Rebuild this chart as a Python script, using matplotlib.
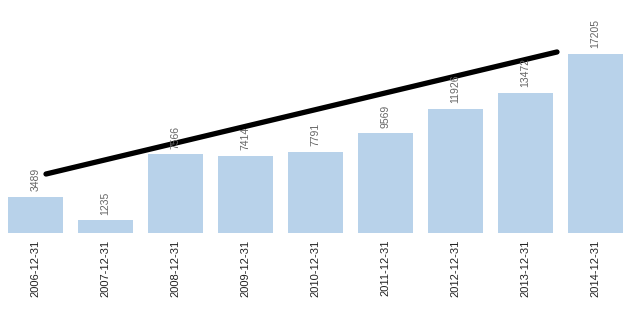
import matplotlib
matplotlib.use("Agg")
import matplotlib.pyplot as plt
import numpy as np

# values
dates = ["2006-12-31", "2007-12-31", "2008-12-31", "2009-12-31", "2010-12-31",
         "2011-12-31", "2012-12-31", "2013-12-31", "2014-12-31"]
values = [3489, 1235, 7566, 7414, 7791, 9569, 11926, 13472, 17205]

# black trend line end points (bar index, value)
trend_x = [0.15, 7.45]
trend_y = [5670, 17400]

bar_color = "#b8d2ea"
plt.rcParams["font.family"] = ["Liberation Sans", "DejaVu Sans"]

fig = plt.figure(figsize=(6.35, 3.11), dpi=100)
ax = fig.add_axes([0.5 / 635, 78 / 311, 630 / 635, 233 / 311])

x = np.arange(len(values))
ax.bar(x, values, width=0.786, color=bar_color)
ax.plot(trend_x, trend_y, color="black", linewidth=3.8, solid_capstyle="round")

for xi, v in zip(x, values):
    ax.annotate(str(v), (xi, v), xytext=(0, 4), textcoords="offset points",
                rotation=90, ha="center", va="bottom", fontsize=7.5, color="#666666")

ax.set_xlim(-0.5, len(values) - 0.5)
ax.set_ylim(0, 22395)
ax.set_xticks(x)
ax.set_xticklabels(dates, rotation=90, fontsize=8, color="#222222")
ax.tick_params(axis="x", length=0, pad=5)
ax.set_yticks([])
for s in ax.spines.values():
    s.set_visible(False)

fig.savefig("out.png", dpi=100)
